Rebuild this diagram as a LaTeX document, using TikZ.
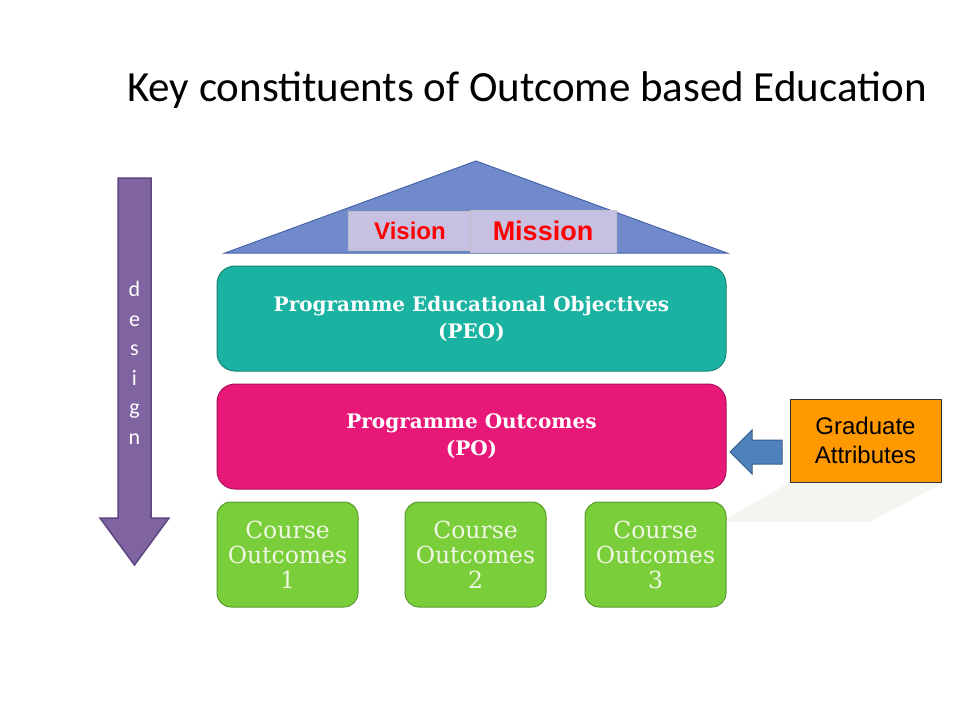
\documentclass[tikz,border=0pt]{standalone}
\usepackage{fontspec}
\setmainfont{DejaVu Serif}
\newfontfamily\calibri{Carlito}
\newfontfamily\arial{Liberation Sans}
\definecolor{roofblue}{RGB}{112,138,204}
\definecolor{roofedge}{RGB}{72,100,170}
\definecolor{tagfill}{RGB}{200,192,224}
\definecolor{tagedge}{RGB}{190,190,200}
\definecolor{peoteal}{RGB}{26,178,160}
\definecolor{peoedge}{RGB}{22,130,115}
\definecolor{pomagenta}{RGB}{232,24,120}
\definecolor{poedge}{RGB}{170,16,90}
\definecolor{cogreen}{RGB}{122,206,58}
\definecolor{coedge}{RGB}{90,155,45}
\definecolor{cotext}{RGB}{240,246,228}
\definecolor{designpurple}{RGB}{128,100,162}
\definecolor{designedge}{RGB}{92,70,128}
\definecolor{gablue}{RGB}{79,129,189}
\definecolor{gaedge}{RGB}{56,93,138}
\definecolor{gaorange}{RGB}{255,153,0}
\definecolor{shadowgray}{RGB}{244,244,240}

\begin{document}
\begin{tikzpicture}[x=1pt,y=-1pt,
    roofpart/.style={fill=roofblue, draw=roofedge, line width=1pt},
    tag/.style={fill=tagfill, draw=tagedge, text=red, inner sep=0pt},
    level/.style={rounded corners=18pt, minimum width=509pt, minimum height=105pt,
        text=white, align=center, line width=1pt,
        font=\fontsize{20}{27}\selectfont\bfseries},
    course/.style={rounded corners=14pt, fill=cogreen, draw=coedge, line width=1pt,
        minimum width=141pt, minimum height=105pt, text=cotext, align=center,
        font=\fontsize{23.5}{25}\selectfont},
    designarrow/.style={fill=designpurple, draw=designedge, line width=1.5pt},
    gaarrow/.style={fill=gablue, draw=gaedge, line width=1pt},
    gabox/.style={fill=gaorange, draw=black!80, line width=0.8pt, minimum width=151pt,
        minimum height=83pt, align=center, font=\arial\fontsize{24}{29}\selectfont}]
    \useasboundingbox (0,0) rectangle (960,720);
    \node (title) at (527,90) {\calibri\fontsize{43}{48}\selectfont Key constituents of Outcome based Education};
    \draw[roofpart] (225,253) -- (476,161) -- (727,253) -- cycle;
    \node[tag, minimum width=124pt, minimum height=39pt, font=\arial\bfseries\fontsize{24}{26}\selectfont] (vision) at (410,230.5) {Vision};
    \node[tag, minimum width=146pt, minimum height=42pt, font=\arial\bfseries\fontsize{27}{29}\selectfont] (mission) at (543,231) {Mission};
    \node[level, fill=peoteal, draw=peoedge] (peo) at (471.5,318.5) {Programme Educational Objectives\\(PEO)};
    \node[level, fill=pomagenta, draw=poedge] (po) at (471.5,436.5) {Programme Outcomes\\(PO)};
    \fill[shadowgray] (720,522) -- (787,484) -- (941,484) -- (870,522) -- cycle;
    \node[course] (co1) at (287.5,554.5) {Course\\Outcomes\\1};
    \node[course] (co2) at (475.5,554.5) {Course\\Outcomes\\2};
    \node[course] (co3) at (655.5,554.5) {Course\\Outcomes\\3};
    \draw[designarrow] (118,178) -- (151,178) -- (151,518) -- (169,518) -- (134.5,565) -- (100,518) -- (118,518) -- cycle;
    \node[text=white, align=center, font=\calibri\fontsize{22}{29.5}\selectfont] (design) at (134.5,363) {d\\e\\s\\i\\g\\n};
    \node[gabox] (ga) at (865.5,440.5) {Graduate\\Attributes};
    \draw[gaarrow] (730,452) -- (752,430) -- (752,440) -- (782,440) -- (782,464) -- (752,464) -- (752,474) -- cycle;
\end{tikzpicture}
\end{document}
